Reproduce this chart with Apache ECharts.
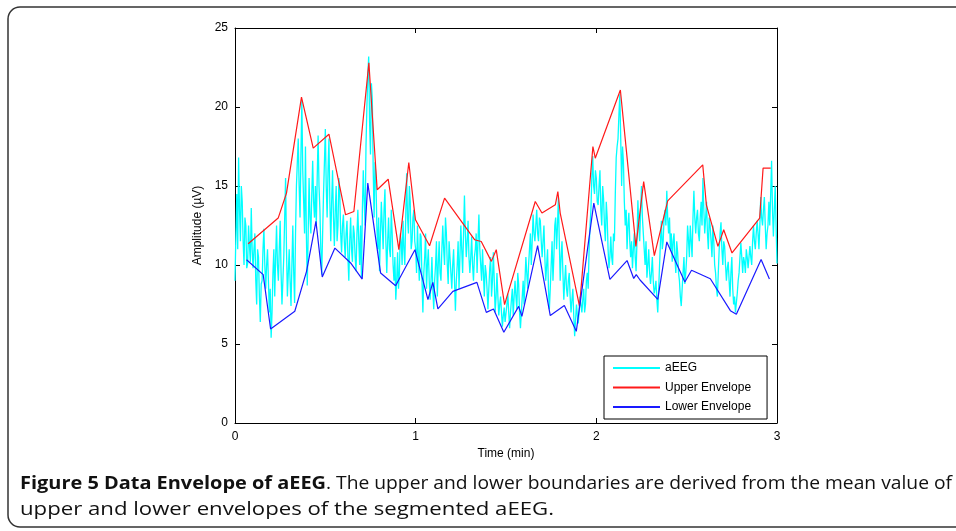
<!DOCTYPE html>
<html>
<head>
<meta charset="utf-8">
<script src="https://cdn.jsdelivr.net/npm/echarts@6/dist/echarts.min.js"></script>
<style>
html,body{margin:0;padding:0;background:#fff;}
#chart{width:956px;height:531px;}
</style>
</head>
<body>
<div id="chart"></div>
<script>
// ---- data ----
const xTicks = [0, 1, 2, 3];
const yTicks = [0, 5, 10, 15, 20, 25];
const aeegStartMin = 0;
const aeegStepMin = 0.005;
const aeegValues = [
  9.0, 12.0, 14.5, 11.0, 16.8, 13.5, 11.5, 15.0, 14.0, 11.5, 10.0, 13.0, 12.5, 9.8, 10.1, 12.5, 11.2, 10.2, 13.6, 11.0,
  9.8, 11.0, 12.0, 9.0, 7.5, 11.0, 10.5, 8.0, 6.4, 8.8, 9.0, 11.0, 12.3, 10.0, 8.5, 10.0, 11.0, 9.0, 7.0, 8.5,
  5.4, 7.0, 9.5, 11.0, 8.0, 10.5, 12.5, 10.0, 9.0, 11.0, 12.8, 9.5, 7.5, 9.0, 10.5, 13.0, 15.5, 11.0, 8.0, 9.5,
  11.0, 9.0, 7.4, 10.0, 12.5, 9.5, 7.6, 12.0, 15.0, 16.5, 18.0, 15.0, 13.0, 17.0, 20.4, 16.0, 14.0, 12.0, 17.5, 12.0,
  8.7, 12.0, 15.5, 13.0, 12.0, 14.5, 16.6, 14.0, 13.0, 15.0, 12.5, 15.5, 18.2, 15.0, 13.5, 11.0, 9.4, 12.0, 14.5, 16.5,
  18.6, 15.0, 13.0, 16.0, 18.0, 14.0, 11.5, 14.0, 16.0, 13.0, 11.2, 13.5, 15.0, 11.5, 12.5, 15.5, 14.5, 12.0, 10.8, 12.5,
  13.2, 11.5, 10.5, 12.0, 12.8, 10.5, 9.0, 11.5, 13.0, 11.0, 10.2, 12.5, 12.0, 10.5, 9.6, 12.0, 13.5, 11.5, 10.0, 12.5,
  9.2, 13.5, 16.0, 14.0, 12.5, 17.5, 20.0, 22.0, 23.2, 19.0, 17.0, 21.5, 20.5, 16.0, 13.0, 16.5, 15.5, 12.5, 11.0, 13.0,
  9.6, 12.0, 14.0, 12.5, 11.0, 13.5, 14.8, 11.5, 9.5, 11.5, 13.0, 11.0, 10.5, 13.5, 12.0, 10.0, 9.0, 10.5, 7.8, 9.0,
  10.8, 8.5, 9.5, 12.0, 11.5, 10.0, 12.8, 11.0, 10.0, 13.0, 15.8, 13.0, 12.0, 15.0, 14.0, 11.0, 11.5, 13.0, 13.5, 11.5,
  11.0, 9.5, 12.5, 10.5, 9.0, 12.0, 11.8, 9.0, 7.0, 9.5, 10.5, 12.0, 8.5, 10.0, 11.0, 9.0, 7.8, 9.0, 10.5, 8.5,
  7.2, 9.0, 10.0, 11.5, 8.0, 10.0, 11.5, 9.5, 9.0, 11.0, 12.5, 11.0, 10.0, 13.0, 12.0, 10.0, 8.8, 11.5, 10.5, 9.5,
  8.5, 10.0, 11.0, 9.0, 7.1, 9.0, 10.0, 11.5, 8.5, 10.5, 12.5, 11.0, 9.5, 12.0, 14.4, 12.0, 10.5, 11.5, 12.8, 10.5,
  9.5, 10.5, 11.8, 10.0, 9.0, 10.5, 11.0, 12.0, 9.5, 11.5, 13.2, 11.0, 10.0, 9.0, 11.0, 9.5, 8.0, 10.0, 9.5, 8.5,
  7.2, 8.5, 9.8, 10.5, 8.0, 9.0, 10.8, 9.0, 7.0, 8.0, 9.5, 8.0, 6.8, 7.5, 8.0, 7.0, 6.1, 6.8, 7.3, 6.4,
  6.5, 7.5, 8.2, 7.0, 6.0, 7.0, 7.8, 8.5, 6.8, 8.0, 9.0, 8.0, 7.2, 9.5, 8.8, 7.0, 6.0, 7.0, 8.0, 9.0,
  7.5, 9.0, 10.5, 9.5, 8.5, 10.0, 11.0, 12.0, 10.0, 11.5, 13.2, 12.0, 11.5, 12.5, 13.5, 12.0, 11.5, 13.0, 12.8, 11.5,
  10.5, 11.5, 12.5, 10.5, 9.0, 10.0, 11.0, 8.5, 7.2, 8.5, 10.0, 11.5, 9.0, 10.5, 12.5, 13.0, 11.0, 12.5, 14.3, 11.5,
  9.0, 10.5, 11.5, 9.5, 7.8, 9.0, 10.0, 8.5, 8.0, 9.0, 9.5, 8.0, 7.0, 7.8, 8.5, 6.8, 5.5, 6.5, 7.5, 6.8,
  6.3, 7.2, 8.0, 7.5, 7.0, 7.8, 8.5, 7.0, 7.5, 9.0, 9.5, 8.5, 11.0, 12.5, 13.5, 15.5, 16.9, 15.0, 14.5, 16.0,
  15.5, 14.0, 13.8, 15.0, 16.0, 13.5, 12.5, 15.0, 14.2, 12.5, 11.5, 14.0, 13.0, 11.0, 9.8, 10.5, 11.8, 10.5, 10.0, 12.0,
  11.5, 14.5, 16.8, 17.5, 18.0, 19.5, 20.8, 18.0, 15.0, 17.5, 16.5, 14.0, 12.5, 13.5, 11.0, 12.5, 13.3, 11.5, 10.5, 11.5,
  9.8, 11.0, 12.0, 10.5, 9.6, 11.5, 14.1, 12.5, 11.5, 13.5, 15.0, 13.0, 12.0, 11.0, 10.0, 11.5, 9.2, 10.0, 11.0, 9.5,
  8.8, 9.5, 10.5, 9.0, 8.2, 8.5, 9.0, 7.8, 7.0, 8.5, 10.0, 11.5, 12.8, 11.0, 11.5, 13.0, 13.5, 12.5, 14.7, 13.0,
  12.0, 13.0, 11.0, 12.0, 10.2, 11.5, 12.0, 10.5, 9.5, 11.5, 10.8, 9.5, 9.0, 8.0, 7.4, 8.5, 9.5, 10.5, 8.8, 9.5,
  10.5, 12.5, 11.6, 10.5, 12.5, 11.5, 10.5, 13.0, 14.7, 13.0, 12.0, 13.0, 13.5, 12.0, 11.5, 13.0, 14.0, 12.5, 15.5, 13.5,
  12.0, 13.0, 14.0, 12.0, 11.0, 13.0, 12.5, 11.5, 10.5, 12.5, 11.5, 10.0, 9.5, 8.5, 8.0, 9.5, 11.0, 12.0, 12.7, 11.0,
  10.0, 11.5, 11.2, 10.0, 9.0, 9.8, 10.2, 9.0, 8.0, 9.5, 10.5, 8.5, 7.5, 8.0, 7.0, 7.6, 8.2, 9.0, 9.5, 10.5,
  11.4, 10.5, 9.5, 10.5, 10.2, 9.5, 11.0, 10.5, 9.8, 10.5, 11.2, 10.5, 10.0, 11.5, 12.5, 11.5, 11.0, 12.0, 12.8, 12.0,
  11.0, 12.5, 14.3, 13.0, 12.5, 13.5, 14.3, 12.5, 11.0, 12.0, 12.5, 14.0, 12.5, 14.5, 16.6, 13.5, 11.8, 13.5, 15.0, 12.5,
  10.1
];
const upperTime = [0.073, 0.239, 0.285, 0.368, 0.433, 0.52, 0.612, 0.658, 0.741, 0.787, 0.848, 0.907, 0.962, 0.999, 1.077, 1.16, 1.326, 1.363, 1.419, 1.446, 1.492, 1.662, 1.699, 1.773, 1.787, 1.8, 1.907, 1.981, 1.994, 2.133, 2.219, 2.262, 2.321, 2.395, 2.589, 2.609, 2.673, 2.705, 2.751, 2.904, 2.923, 2.965];
const upperValues = [11.35, 12.97, 14.55, 20.62, 17.4, 18.28, 13.18, 13.39, 22.8, 14.76, 15.43, 10.97, 16.49, 12.86, 11.22, 14.23, 11.6, 11.49, 10.23, 10.97, 7.49, 14.02, 13.29, 13.81, 14.65, 13.29, 7.38, 17.5, 16.76, 21.08, 11.18, 15.28, 10.59, 14.06, 16.34, 13.81, 11.18, 12.23, 10.76, 12.97, 16.13, 16.13];
const lowerTime = [0.064, 0.156, 0.197, 0.331, 0.396, 0.448, 0.483, 0.553, 0.64, 0.704, 0.735, 0.806, 0.889, 0.996, 1.068, 1.095, 1.123, 1.206, 1.339, 1.391, 1.431, 1.488, 1.57, 1.588, 1.675, 1.745, 1.823, 1.889, 1.986, 2.075, 2.17, 2.207, 2.221, 2.242, 2.34, 2.39, 2.49, 2.527, 2.631, 2.742, 2.775, 2.912, 2.958];
const lowerValues = [10.33, 9.39, 5.95, 7.07, 9.6, 12.76, 9.24, 11.07, 10.13, 9.11, 15.18, 9.49, 8.69, 10.97, 7.81, 8.9, 7.22, 8.33, 8.9, 7.0, 7.22, 5.74, 7.38, 6.75, 11.22, 6.8, 7.43, 5.8, 13.92, 9.09, 10.28, 9.15, 9.39, 9.05, 7.83, 11.46, 8.92, 9.67, 9.13, 7.11, 6.88, 10.35, 9.12];
const seriesNames = ['aEEG', 'Upper Envelope', 'Lower Envelope'];
const captionBold = 'Figure 5 Data Envelope of aEEG';
const captionRest = '. The upper and lower boundaries are derived from the mean value of';
const captionLine2 = 'upper and lower envelopes of the segmented aEEG.';

// ---- build ----
const aeegData = aeegValues.map((v, i) => [aeegStartMin + i * aeegStepMin, v]);
const upperData = upperTime.map((t, i) => [t, upperValues[i]]);
const lowerData = lowerTime.map((t, i) => [t, lowerValues[i]]);

const FONT = 'Liberation Sans, Arial, sans-serif';
const CAP_SIZE = 18;
const measureCtx = document.createElement('canvas').getContext('2d');
function textWidth(str, font) { measureCtx.font = font; return measureCtx.measureText(str).width; }
const boldFont = 'bold ' + CAP_SIZE + 'px "Open Sans"';
const regFont = CAP_SIZE + 'px "Open Sans"';
// fit caption pieces to the spans they occupy in the reference
const sBold = 306 / textWidth(captionBold, boldFont);
const sRest = 626 / textWidth(captionRest, regFont);
const sLine2 = 534 / textWidth(captionLine2, regFont);

const chart = echarts.init(document.getElementById('chart'), null, {renderer: 'canvas'});
const hiddenAxisCommon = {
  axisLine: {show: true, onZero: false, lineStyle: {color: '#000', width: 1}},
  axisTick: {show: true, inside: true, length: 5, lineStyle: {color: '#000'}},
  axisLabel: {show: false},
  splitLine: {show: false}
};
chart.setOption({
  animation: false,
  backgroundColor: '#fff',
  grid: {left: 235, right: 179, top: 28, bottom: 108, containLabel: false},
  xAxis: [{
    type: 'value', min: xTicks[0], max: xTicks[xTicks.length - 1], interval: 1,
    name: 'Time (min)', nameLocation: 'middle', nameGap: 24,
    nameTextStyle: {fontFamily: FONT, fontSize: 12, color: '#000'},
    axisLine: {show: true, onZero: false, lineStyle: {color: '#000', width: 1}},
    axisTick: {show: true, inside: true, length: 5, lineStyle: {color: '#000'}},
    axisLabel: {fontFamily: FONT, fontSize: 12, color: '#000', margin: 8},
    splitLine: {show: false}
  }, Object.assign({
    type: 'value', position: 'top', min: xTicks[0], max: xTicks[xTicks.length - 1], interval: 1
  }, hiddenAxisCommon)],
  yAxis: [{
    type: 'value', min: yTicks[0], max: yTicks[yTicks.length - 1], interval: 5,
    name: 'Amplitude (µV)', nameLocation: 'middle', nameGap: 27,
    nameTextStyle: {fontFamily: FONT, fontSize: 12, color: '#000'},
    axisLine: {show: true, onZero: false, lineStyle: {color: '#000', width: 1}},
    axisTick: {show: true, inside: true, length: 5, lineStyle: {color: '#000'}},
    axisLabel: {fontFamily: FONT, fontSize: 12, color: '#000', margin: 7},
    splitLine: {show: false}
  }, Object.assign({
    type: 'value', position: 'right', min: yTicks[0], max: yTicks[yTicks.length - 1], interval: 5
  }, hiddenAxisCommon)],
  legend: {
    orient: 'vertical', left: 604, top: 356,
    data: seriesNames.map(n => ({name: n, icon: 'rect'})),
    itemWidth: 47, itemHeight: 2, itemGap: 5.5,
    padding: [5, 16, 5, 9],
    borderColor: '#000', borderWidth: 1, backgroundColor: '#fff',
    textStyle: {fontFamily: FONT, fontSize: 12, color: '#000', lineHeight: 14, height: 14}
  },
  series: [{
    name: seriesNames[0], type: 'line', data: aeegData, symbol: 'none',
    lineStyle: {color: '#00ffff', width: 1.3}, itemStyle: {color: '#00ffff'}, z: 2
  }, {
    name: seriesNames[1], type: 'line', data: upperData, symbol: 'none',
    lineStyle: {color: '#ff1a1a', width: 1.2}, itemStyle: {color: '#ff1a1a'}, z: 3
  }, {
    name: seriesNames[2], type: 'line', data: lowerData, symbol: 'none',
    lineStyle: {color: '#1a1aff', width: 1.2}, itemStyle: {color: '#1a1aff'}, z: 4
  }],
  graphic: [{
    type: 'rect', silent: true, z: -1,
    shape: {x: 8, y: 7, width: 1000, height: 520, r: 12},
    style: {fill: 'none', stroke: '#333', lineWidth: 1.5}
  }, {
    type: 'text', x: 20, y: 484, scaleX: sBold,
    style: {text: captionBold, font: boldFont, fill: '#111', verticalAlign: 'middle', align: 'left'}
  }, {
    type: 'text', x: 326, y: 484, scaleX: sRest,
    style: {text: captionRest, font: regFont, fill: '#111', verticalAlign: 'middle', align: 'left'}
  }, {
    type: 'text', x: 20, y: 510, scaleX: sLine2,
    style: {text: captionLine2, font: regFont, fill: '#111', verticalAlign: 'middle', align: 'left'}
  }]
});
</script>
</body>
</html>
